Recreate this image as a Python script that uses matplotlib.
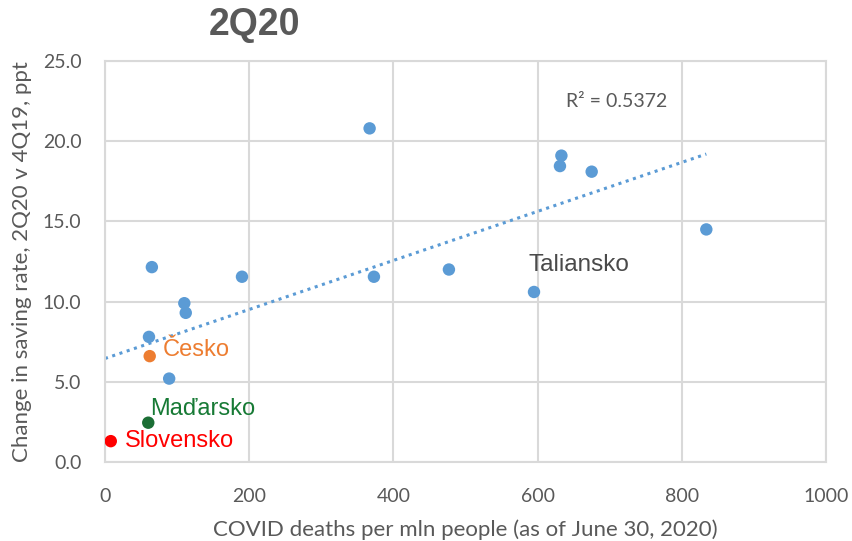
import numpy as np
import matplotlib
matplotlib.use("Agg")
import matplotlib.pyplot as plt

# data
deaths_blue = [367, 633, 631, 675, 834, 65, 190, 373, 477, 595, 110, 112, 61, 89]
saving_blue = [20.8, 19.1, 18.45, 18.1, 14.5, 12.15, 11.55, 11.55, 12.0, 10.6, 9.9, 9.3, 7.8, 5.2]
hl_names = ["Česko", "Maďarsko", "Slovensko"]
hl_deaths = [62, 60, 8]
hl_saving = [6.6, 2.45, 1.3]
hl_colors = ["#ED7D31", "#1B6E35", "#FF0000"]
hl_text_colors = ["#ED7D31", "#177A35", "#FF0000"]
r2_label = "R² = 0.5372"
xticks = [0, 200, 400, 600, 800, 1000]
yticks = [0.0, 5.0, 10.0, 15.0, 20.0, 25.0]

fig = plt.figure(figsize=(8.52, 5.41), dpi=100)
ax = fig.add_axes([105/852, 1-462/541, (826-105)/852, (462-61)/541])

gray = "#D9D9D9"
ax.set_xlim(0, 1000)
ax.set_ylim(0, 25)
ax.set_xticks(xticks)
ax.set_yticks(yticks)
ax.set_xticklabels([str(v) for v in xticks])
ax.set_yticklabels([f"{v:.1f}" for v in yticks])
ax.grid(True, color=gray, linewidth=1.5)
ax.set_axisbelow(True)
for s in ax.spines.values():
    s.set_color(gray)
    s.set_linewidth(1.5)
ax.tick_params(axis="y", length=0, colors="#595959", labelsize=14, pad=17)
ax.tick_params(axis="x", length=0, colors="#595959", labelsize=14, pad=19)
for lab in ax.get_xticklabels() + ax.get_yticklabels():
    lab.set_fontfamily("Lato")

# trendline over all points
all_x = np.array(deaths_blue + hl_deaths, dtype=float)
all_y = np.array(saving_blue + hl_saving, dtype=float)
k, b = np.polyfit(all_x, all_y, 1)
xs = np.array([0, all_x.max()])
ax.plot(xs, k*xs + b, linestyle=(0, (1, 1.5)), color="#5B9BD5", linewidth=2.2, zorder=2)

ax.scatter(deaths_blue, saving_blue, s=80, color="#5B9BD5", edgecolors="none", zorder=3)
for n, x, y, c in zip(hl_names, hl_deaths, hl_saving, hl_colors):
    ax.scatter([x], [y], s=80, color=c, edgecolors="none", zorder=4)

# labels
ax.text(hl_deaths[0] + 18, hl_saving[0] + 0.4, hl_names[0], color=hl_text_colors[0],
        fontsize=17, family="Liberation Sans", va="center", ha="left")
ax.text(hl_deaths[1] + 2, hl_saving[1] + 0.85, hl_names[1], color=hl_text_colors[1],
        fontsize=17, family="Liberation Sans", va="center", ha="left")
ax.text(hl_deaths[2] + 20, hl_saving[2] + 0.0, hl_names[2], color=hl_text_colors[2],
        fontsize=17, family="Liberation Sans", va="center", ha="left")
ax.text(658, 12.3, "Taliansko", color="#4A4A4A", fontsize=17.5, family="Liberation Sans",
        va="center", ha="center")
ax.text(709, 22.5, r2_label, color="#595959", fontsize=14, family="Lato",
        va="center", ha="center")

ax.set_xlabel("COVID deaths per mln people (as of June 30, 2020)", fontsize=16,
              family="Lato", color="#595959", labelpad=10)
ax.set_ylabel("Change in saving rate, 2Q20 v 4Q19, ppt", fontsize=16,
              family="Lato", color="#595959", labelpad=8)
fig.text(255/852, 1-25/541, "2Q20", fontsize=27, fontweight="bold",
         family="Liberation Sans", color="#595959", ha="center", va="center")

fig.savefig("out.png", dpi=100)
